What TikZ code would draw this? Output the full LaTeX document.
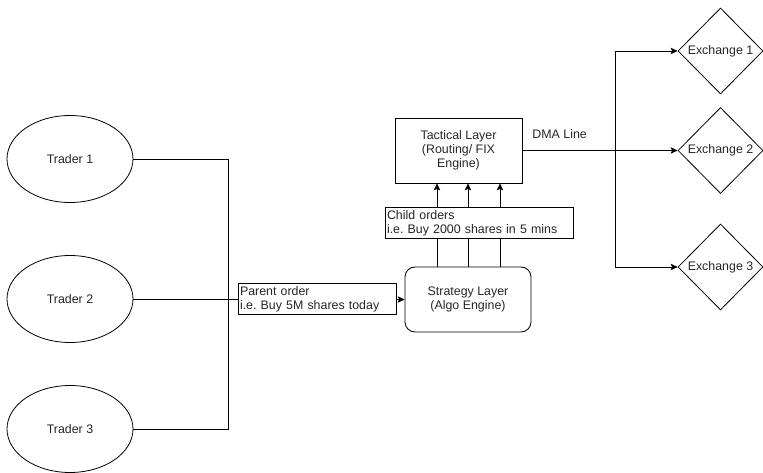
\documentclass[tikz,border=0pt]{standalone}
\usepackage{fontspec}
\setmainfont{Liberation Sans}
\usetikzlibrary{shapes.geometric,arrows.meta}
\frenchspacing
\begin{document}
\begin{tikzpicture}[x=1pt,y=-1pt,
 every node/.style={font=\fontsize{12.4}{14}\selectfont, text=black!85},
 trader/.style={draw, ellipse, minimum width=126pt, minimum height=87pt, inner sep=0pt},
 layer/.style={draw, minimum width=127pt, minimum height=65pt, align=center, inner sep=0pt},
 exch/.style={draw, diamond, minimum width=85pt, minimum height=86pt, inner sep=0pt},
 lbl/.style={draw, fill=white, align=left, inner xsep=2pt, inner ysep=2.5pt},
 conn/.style={line width=0.8pt},
 arr/.style={conn, -{Stealth[length=7pt,width=6.5pt,inset=1.5pt]}},
 every path/.style={line width=0.8pt}]
\useasboundingbox (0,0) rectangle (763,473);
% traders
\node[trader] (t1) at (70,159) {Trader 1};
\node[trader] (t2) at (70,299) {Trader 2};
\node[trader] (t3) at (70,429) {Trader 3};
% layers
\node[layer] (tac) at (458.5,150.5) {Tactical Layer\\(Routing/ FIX\\Engine)};
\node[layer, rounded corners=10pt, minimum width=126pt] (strat) at (468,299.5) {Strategy Layer\\(Algo Engine)};
% exchanges
\node[exch] (ex1) at (720.5,51) {Exchange 1};
\node[exch] (ex2) at (720.5,150.5) {Exchange 2};
\node[exch] (ex3) at (720.5,267) {Exchange 3};
% trader connectors
\coordinate (j) at (228,299.5);
\draw[conn] (t1.east) -| (j);
\draw[conn] (t3.east) -| (j);
\draw[arr] (t2.east |- strat.west) -- (strat.west);
\node[lbl, text width=154pt] (parent) at (317,299) {Parent order\\i.e. Buy 5M shares today};
% child orders
\draw[arr] ([xshift=-31pt]strat.north) -- ([xshift=-31pt]strat.north |- tac.south);
\draw[arr] (strat.north) -- (strat.north |- tac.south);
\draw[arr] ([xshift=32pt]strat.north) -- ([xshift=32pt]strat.north |- tac.south);
\node[lbl, text width=184pt] (child) at (479,223) {Child orders\\i.e. Buy 2000 shares in 5 mins};
% DMA
\coordinate (b) at (615,150.5);
\draw[arr] (tac.east) -- (ex2.west);
\draw[arr] (b) |- (ex1.west);
\draw[arr] (b) |- (ex3.west);
\node[anchor=west, inner sep=0pt] (dma) at (532,134) {DMA Line};
\end{tikzpicture}
\end{document}
